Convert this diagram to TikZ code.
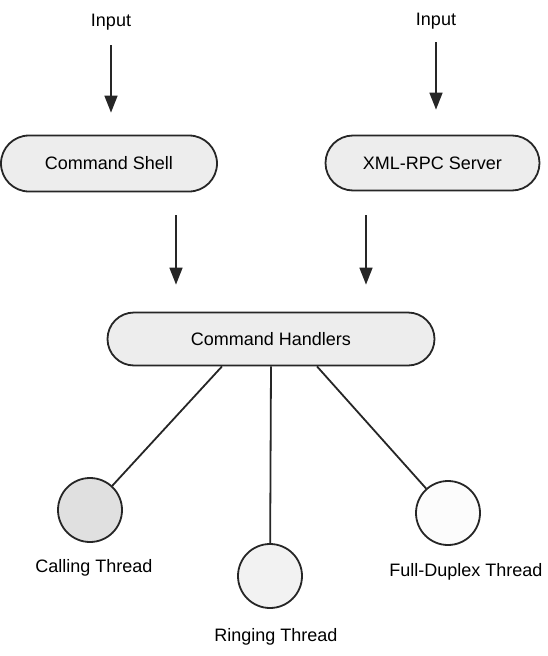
\documentclass[tikz,border=0pt]{standalone}
\usepackage{fontspec}
\setmainfont{Liberation Sans}
\usetikzlibrary{shapes.misc,arrows.meta}

\begin{document}
\begin{tikzpicture}[x=1pt,y=-1pt,
    font=\fontsize{18}{22}\selectfont,
    pill/.style={draw=black!85, line width=1.8pt, fill=black!7, rounded rectangle, inner sep=0pt},
    thread/.style={draw=black!85, line width=1.8pt, circle, minimum size=64pt, inner sep=0pt},
    txt/.style={anchor=base, inner sep=0pt},
    flow/.style={-{Triangle[length=17pt,width=13pt]}, line width=1.7pt, black!85},
    link/.style={line width=1.8pt, black!85}]

      \useasboundingbox (0,0) rectangle (547,656);

      \node[txt] (in1) at (111,26) {Input};
      \node[txt] (in2) at (436,25.5) {Input};

      \node[pill, minimum width=216pt, minimum height=56pt] (shell) at (109,163.5) {Command Shell};
      \node[pill, minimum width=214pt, minimum height=55pt] (xml) at (432.5,163) {XML-RPC Server};
      \node[pill, minimum width=327pt, minimum height=53pt] (handlers) at (271,339) {Command Handlers};

      \draw[flow, shorten <=19pt, shorten >=22pt] (in1.base) -- (in1.base |- shell.north);
      \draw[flow, shorten <=16.5pt, shorten >=25pt] (in2.base) -- (in2.base |- xml.north);

      \draw[flow, shorten <=23pt, shorten >=27pt] ([xshift=67pt]shell.south) -- ([xshift=-95pt]handlers.north);
      \draw[flow, shorten <=24pt, shorten >=27pt] ([xshift=-66.5pt]xml.south) -- ([xshift=95pt]handlers.north);

      \node[thread, fill=black!12] (call) at (90,510) {};
      \node[thread, fill=black!5] (ring) at (270,576) {};
      \node[thread, fill=black!1] (full) at (448,513) {};

      \draw[link] ([xshift=-49pt]handlers.south) -- (call);
      \draw[link] (handlers.south) -- (ring);
      \draw[link] ([xshift=46pt]handlers.south) -- (full);

      \node[txt] (callname) at (94,572) {Calling Thread};
      \node[txt] (ringname) at (276,641) {Ringing Thread};
      \node[txt] (fullname) at (466,576) {Full-Duplex Thread};

\end{tikzpicture}
\end{document}
